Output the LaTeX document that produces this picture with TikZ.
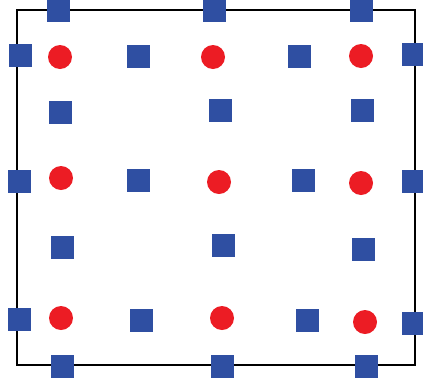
\documentclass[tikz,border=0pt]{standalone}
\definecolor{sqblue}{HTML}{2F4FA2}
\definecolor{dotred}{HTML}{EC1C24}
\begin{document}
\begin{tikzpicture}[x=1pt,y=-1pt,
  sq/.style={fill=sqblue,draw=none,minimum size=23pt,inner sep=0pt,rectangle},
  dot/.style={fill=dotred,draw=none,minimum size=24pt,inner sep=0pt,circle}]
\useasboundingbox (0,0) rectangle (423,381);
\fill[white] (0,0) rectangle (423,381);
\draw[line width=2.6pt,line join=miter] (17,10) rectangle (415,365);
% edge squares
\node[sq] (t1) at (58,10) {};
\node[sq] (t2) at (214,10) {};
\node[sq] (t3) at (361,10) {};
\node[sq] (l1) at (20,55) {};
\node[sq] (l2) at (19,181) {};
\node[sq] (l3) at (19,319) {};
\node[sq] (r1) at (413,54) {};
\node[sq] (r2) at (413,181) {};
\node[sq] (r3) at (413,323) {};
\node[sq] (b1) at (62,366) {};
\node[sq] (b2) at (222,366) {};
\node[sq] (b3) at (366,366) {};
% red dots
\node[dot] (c11) at (60,57) {};
\node[dot] (c12) at (213,57) {};
\node[dot] (c13) at (361,56) {};
\node[dot] (c21) at (61,178) {};
\node[dot] (c22) at (219,182) {};
\node[dot] (c23) at (361,183) {};
\node[dot] (c31) at (61,318) {};
\node[dot] (c32) at (222,318) {};
\node[dot] (c33) at (365,322) {};
% inner squares
\node[sq] (s11) at (138,56) {};
\node[sq] (s12) at (299,56) {};
\node[sq] (m11) at (60,112) {};
\node[sq] (m12) at (220,110) {};
\node[sq] (m13) at (362,110) {};
\node[sq] (s21) at (138,180) {};
\node[sq] (s22) at (303,180) {};
\node[sq] (m21) at (62,247) {};
\node[sq] (m22) at (223,245) {};
\node[sq] (m23) at (363,249) {};
\node[sq] (s31) at (141,320) {};
\node[sq] (s32) at (307,320) {};
\end{tikzpicture}
\end{document}
